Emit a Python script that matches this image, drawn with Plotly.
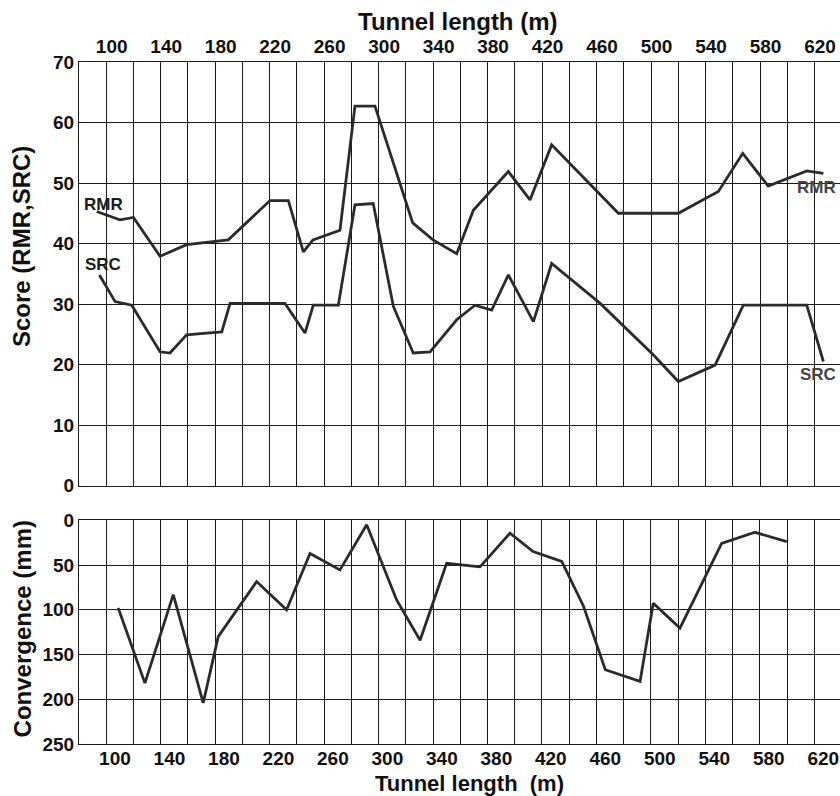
import plotly.graph_objects as go
from plotly.subplots import make_subplots

# ---------------- data ----------------
rmr_x = [89, 106, 116, 135.5, 155, 174.6, 185.6, 216.2, 229.7, 240.7, 247.8, 267.6,
         278.6, 293.3, 321, 335.9, 353.3, 365.5, 391.2, 407.1, 423, 472, 516, 545.4,
         563.3, 582, 610.3, 622.5]
rmr_v = [45.3, 43.9, 44.3, 37.9, 39.8, 40.3, 40.6, 47.1, 47.1, 38.6, 40.6, 42.2,
         62.7, 62.7, 43.4, 40.6, 38.3, 45.5, 51.9, 47.2, 56.3, 45.0, 45.0, 48.6,
         54.9, 49.5, 52.0, 51.6]

src_x = [91, 102.5, 114.7, 135.5, 142.8, 155, 169.8, 180.8, 186.9, 227.2, 241.9, 248,
         266.4, 278.6, 292, 306.8, 321.4, 333.7, 353.3, 366.7, 379, 391.2, 409.6, 423,
         458.6, 497.6, 516, 543, 563.7, 610.3, 622.5]
src_v = [34.8, 30.4, 29.8, 22.1, 21.9, 24.9, 25.2, 25.4, 30.1, 30.1, 25.2, 29.8,
         29.8, 46.4, 46.6, 29.6, 21.9, 22.1, 27.4, 29.8, 29.0, 34.8, 27.1, 36.7,
         30.1, 21.6, 17.2, 19.9, 29.8, 29.8, 20.5]

conv_x = [102.4, 122, 142.8, 164.8, 175.8, 204, 226, 243.2, 265.2, 284.8, 306.8, 324,
          343.5, 368, 390, 407, 428, 444, 460, 485.5, 495.2, 514.8, 545.4, 569.9, 593.2]
conv_v = [98, 182, 83, 204, 130, 68.5, 100, 37, 55.5, 5, 89, 134,
          48, 52, 14.5, 35, 46, 96, 167, 180, 92.6, 120.5, 25.7, 13.4, 23.9]

x_tick_start, x_tick_step = 100, 40
score_range = [0, 70]
conv_range = [250, 0]

# ---------------- figure ----------------
LINE = "#2b2b2b"
GRID = "#1a1a1a"
FONT = "Liberation Sans, Arial, sans-serif"

fig = make_subplots(rows=2, cols=1, shared_xaxes=False, vertical_spacing=0.05)

fig.add_trace(go.Scatter(x=rmr_x, y=rmr_v, mode="lines", name="RMR",
                         line=dict(color=LINE, width=2.8)), row=1, col=1)
fig.add_trace(go.Scatter(x=src_x, y=src_v, mode="lines", name="SRC",
                         line=dict(color=LINE, width=2.8)), row=1, col=1)
fig.add_trace(go.Scatter(x=conv_x, y=conv_v, mode="lines", name="Convergence",
                         line=dict(color=LINE, width=2.8)), row=2, col=1)

tickfont = dict(family=FONT, size=19, color="#111", weight="bold")

common_x = dict(tickmode="linear", tick0=x_tick_start, dtick=x_tick_step,
                showgrid=False, showline=True, linecolor=GRID, linewidth=1.2,
                mirror=True, ticks="", tickfont=tickfont, zeroline=False)

fig.update_layout(
    width=840, height=796,
    margin=dict(l=79, r=0, t=62, b=52),
    paper_bgcolor="white", plot_bgcolor="white",
    showlegend=False,
    xaxis=dict(common_x, domain=[0, 1], range=[76.0, 634.7], side="top", anchor="y",
               minor=dict(tick0=96, dtick=20, showgrid=True, gridcolor=GRID, gridwidth=1,
                          ticks="")),
    yaxis=dict(domain=[0.379, 1.0], range=score_range, tickmode="linear", tick0=0, dtick=10,
               showgrid=True, gridcolor=GRID, gridwidth=1, showline=True, linecolor=GRID,
               linewidth=1.2, mirror=True, ticks="", tickfont=tickfont, zeroline=False,
               anchor="x"),
    xaxis2=dict(common_x, domain=[0, 1], range=[73.6, 632.3], side="bottom", anchor="y2",
                ticklabelstandoff=-3,
                minor=dict(tick0=93.5, dtick=20, showgrid=True, gridcolor=GRID, gridwidth=1,
                           ticks="")),
    yaxis2=dict(domain=[0.0, 0.328], range=conv_range, tickmode="linear", tick0=0, dtick=50,
                showgrid=True, gridcolor=GRID, gridwidth=1, showline=True, linecolor=GRID,
                linewidth=1.2, mirror=True, ticks="", tickfont=tickfont, zeroline=False,
                anchor="x2"),
)

title_font = dict(family=FONT, size=24, color="#111", weight="bold")
xtitle_bottom_font = dict(family=FONT, size=22, color="#111", weight="bold")
label_font = dict(family=FONT, size=17, color="#1a1a1a", weight="bold")

annos = [
    dict(text="Tunnel length (m)", xref="paper", yref="paper", x=0.4974, y=1.0587,
         xanchor="center", yanchor="middle", showarrow=False, font=title_font),
    dict(text="Tunnel length  (m)", xref="paper", yref="paper", x=0.5125, y=-0.0575,
         xanchor="center", yanchor="middle", showarrow=False, font=xtitle_bottom_font),
    dict(text="Score (RMR,SRC)", xref="paper", yref="paper", x=0, xshift=-58, y=0.7287,
         xanchor="center", yanchor="middle", textangle=-90, showarrow=False, font=title_font),
    dict(text="Convergence (mm)", xref="paper", yref="paper", x=0, xshift=-57, y=0.168,
         xanchor="center", yanchor="middle", textangle=-90, showarrow=False, font=title_font),
    dict(text="RMR", xref="x", yref="y", x=94.3, y=46.4, xanchor="center", yanchor="middle",
         showarrow=False, font=label_font),
    dict(text="SRC", xref="x", yref="y", x=93.6, y=36.6, xanchor="center", yanchor="middle",
         showarrow=False, font=label_font),
    dict(text="RMR", xref="x", yref="y", x=633.5, y=49.3, xanchor="right", yanchor="middle",
         showarrow=False, font=dict(label_font, color="#444")),
    dict(text="SRC", xref="x", yref="y", x=633.5, y=18.3, xanchor="right", yanchor="middle",
         showarrow=False, font=dict(label_font, color="#444")),
]
fig.update_layout(annotations=annos)

fig.write_html(
    "out.html",
    config={"displayModeBar": False},
    post_script="document.body.style.margin='0';document.body.style.overflow='hidden';"
                "document.documentElement.style.overflow='hidden';",
)
